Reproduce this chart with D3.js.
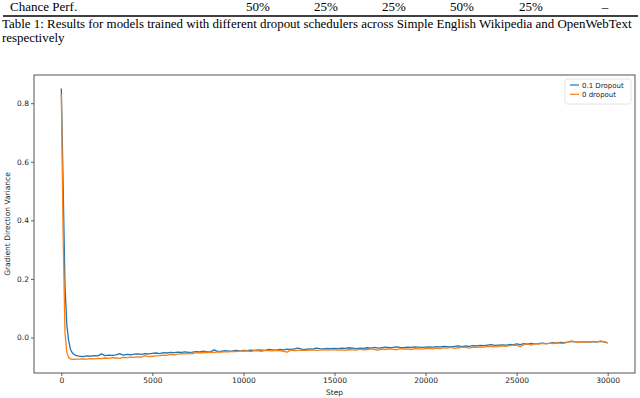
<!DOCTYPE html>
<html>
<head>
<meta charset="utf-8">
<script src="https://cdn.jsdelivr.net/npm/d3@7"></script>
<style>
  body { margin: 0; background: #fff; }
  svg { display: block; }
</style>
</head>
<body>
<div id="chart"></div>
<script>
// training steps at which gradient direction variance was logged
const steps = [
  0, 100, 200, 300, 400, 500, 600, 700, 800, 900,
  1000, 1200, 1400, 1600, 1800, 2000, 2200, 2400, 2600, 2800, 3000, 3200, 3400, 3600, 3800,
  4000, 4200, 4400, 4600, 4800, 5000, 5200, 5400, 5600, 5800, 6000, 6200, 6400, 6600, 6800,
  7000, 7200, 7400, 7600, 7800, 8000, 8200, 8400, 8600, 8800, 9000, 9200, 9400, 9600, 9800,
  10000, 10200, 10400, 10600, 10800, 11000, 11200, 11400, 11600, 11800, 12000, 12200, 12400, 12600, 12800,
  13000, 13200, 13400, 13600, 13800, 14000, 14200, 14400, 14600, 14800, 15000, 15200, 15400, 15600, 15800,
  16000, 16200, 16400, 16600, 16800, 17000, 17200, 17400, 17600, 17800, 18000, 18200, 18400, 18600, 18800,
  19000, 19200, 19400, 19600, 19800, 20000, 20200, 20400, 20600, 20800, 21000, 21200, 21400, 21600, 21800,
  22000, 22200, 22400, 22600, 22800, 23000, 23200, 23400, 23600, 23800, 24000, 24200, 24400, 24600, 24800,
  25000, 25200, 25400, 25600, 25800, 26000, 26200, 26400, 26600, 26800, 27000, 27200, 27400, 27600, 27800,
  28000, 28200, 28400, 28600, 28800, 29000, 29200, 29400, 29600, 29800, 30000
];

// 0.1 dropout
const dropout01 = [
  0.850, 0.520, 0.180, 0.045, -0.010, -0.040, -0.052, -0.058, -0.061, -0.063,
  -0.064, -0.065, -0.063, -0.064, -0.062, -0.063, -0.056, -0.062, -0.060, -0.061, -0.059, -0.055, -0.060, -0.058, -0.059,
  -0.057, -0.056, -0.058, -0.055, -0.056, -0.054,
  -0.053, -0.055, -0.052, -0.053, -0.051, -0.052, -0.050, -0.051, -0.049, -0.051, -0.050, -0.048, -0.049, -0.047, -0.049,
  -0.048, -0.042, -0.048, -0.047, -0.045, -0.047, -0.046, -0.044, -0.046, -0.044,
  -0.045, -0.043, -0.044, -0.042, -0.043, -0.044, -0.041, -0.042, -0.043, -0.041, -0.042, -0.040, -0.041, -0.039, -0.036,
  -0.040, -0.041, -0.039, -0.040, -0.036, -0.038, -0.039, -0.037, -0.038, -0.037,
  -0.038, -0.036, -0.037, -0.035, -0.036, -0.038, -0.036, -0.037, -0.035, -0.036, -0.034, -0.036, -0.035, -0.033, -0.035,
  -0.034, -0.032, -0.034, -0.035, -0.033, -0.034, -0.032, -0.033, -0.034, -0.033,
  -0.032, -0.033, -0.031, -0.032, -0.030, -0.031, -0.032, -0.030, -0.029, -0.031, -0.029, -0.030, -0.028, -0.029, -0.027,
  -0.028, -0.026, -0.024, -0.027, -0.026, -0.025, -0.026, -0.024, -0.025, -0.022,
  -0.024, -0.021, -0.023, -0.020, -0.022, -0.021, -0.019, -0.021, -0.020, -0.018, -0.019, -0.017, -0.018, -0.016, -0.013,
  -0.015, -0.016, -0.014, -0.015, -0.016, -0.014, -0.015, -0.013, -0.015, -0.018
];

// 0 dropout
const dropout0 = [
  0.830, 0.350, 0.020, -0.050, -0.068, -0.073, -0.075, -0.075, -0.074, -0.074,
  -0.074, -0.073, -0.074, -0.072, -0.073, -0.071, -0.072, -0.070, -0.071, -0.069, -0.070, -0.071, -0.068, -0.069, -0.067,
  -0.068, -0.066, -0.067, -0.062, -0.065, -0.064,
  -0.063, -0.062, -0.060, -0.061, -0.058, -0.059, -0.057, -0.055, -0.056, -0.054, -0.055, -0.052, -0.053, -0.051, -0.052,
  -0.050, -0.051, -0.049, -0.050, -0.048, -0.049, -0.047, -0.048, -0.046, -0.047,
  -0.046, -0.048, -0.045, -0.046, -0.047, -0.044, -0.045, -0.046, -0.044, -0.045, -0.047, -0.050, -0.043, -0.045, -0.044,
  -0.044, -0.044, -0.043, -0.042, -0.044, -0.043, -0.041, -0.043, -0.042, -0.042,
  -0.043, -0.042, -0.044, -0.041, -0.042, -0.043, -0.040, -0.042, -0.041, -0.039, -0.041, -0.043, -0.040, -0.041, -0.039,
  -0.040, -0.042, -0.038, -0.040, -0.039, -0.041, -0.038, -0.039, -0.040, -0.038,
  -0.037, -0.039, -0.036, -0.038, -0.035, -0.036, -0.034, -0.037, -0.035, -0.033, -0.034, -0.036, -0.033, -0.034, -0.032,
  -0.033, -0.031, -0.030, -0.032, -0.031, -0.029, -0.030, -0.028, -0.027, -0.026,
  -0.031, -0.024, -0.022, -0.026, -0.021, -0.023, -0.020, -0.022, -0.019, -0.021, -0.017, -0.020, -0.019, -0.016, -0.012,
  -0.015, -0.017, -0.014, -0.016, -0.015, -0.013, -0.016, -0.012, -0.014, -0.018
];

const xTicks = [0, 5000, 10000, 15000, 20000, 25000, 30000];
const yTicks = [0.0, 0.2, 0.4, 0.6, 0.8];

const chanceLabel = "Chance Perf.";
const chanceValues = ["50%", "25%", "25%", "50%", "25%", "–"];
const captionLines = [
  "Table 1: Results for models trained with different dropout schedulers across Simple English Wikipedia and OpenWebText",
  "respectively"
];

const series = [
  { name: "0.1 Dropout", values: dropout01, color: "#1f77b4" },
  { name: "0 dropout", values: dropout0, color: "#ff7f0e" }
];

const width = 640, height = 398;
const margin = { top: 75, right: 5, bottom: 25, left: 34 };

const svg = d3.select("#chart")
  .append("svg")
  .attr("width", width)
  .attr("height", height);

// ---- the table tail + caption above the figure
const serif = "'Liberation Serif', 'Times New Roman', serif";
svg.append("text")
  .attr("x", 10).attr("y", 11)
  .attr("font-family", serif).attr("font-size", 13)
  .text(chanceLabel);

const colX = [258, 326, 394, 462, 531, 605];
svg.append("g")
  .selectAll("text")
  .data(chanceValues)
  .join("text")
  .attr("x", (d, i) => colX[i]).attr("y", 11)
  .attr("text-anchor", "middle")
  .attr("font-family", serif).attr("font-size", 13)
  .text(d => d);

svg.append("line")
  .attr("x1", 3).attr("x2", 638)
  .attr("y1", 16).attr("y2", 16)
  .attr("stroke", "#000").attr("stroke-width", 1.3);

const caption = svg.append("g")
  .selectAll("text")
  .data(captionLines)
  .join("text")
  .attr("x", 2).attr("y", (d, i) => 28 + i * 14)
  .attr("font-family", serif).attr("font-size", 13.5)
  .text(d => d);

// scale caption font so the first line fits the page width
const capW = caption.node().getComputedTextLength();
const capSize = Math.min(13.5, 13.5 * 630 / capW);
caption.attr("font-size", capSize);

// ---- plot
const x = d3.scaleLinear()
  .domain([-1500, 31500])
  .range([margin.left, width - margin.right]);

const y = d3.scaleLinear()
  .domain([-0.12125, 0.89625])
  .range([height - margin.bottom, margin.top]);

const sans = "'DejaVu Sans', sans-serif";

const xAxis = svg.append("g")
  .attr("transform", `translate(0,${height - margin.bottom})`)
  .call(d3.axisBottom(x).tickValues(xTicks).tickSize(3).tickPadding(2).tickFormat(d3.format("d")));

const yAxis = svg.append("g")
  .attr("transform", `translate(${margin.left},0)`)
  .call(d3.axisLeft(y).tickValues(yTicks).tickSize(3).tickPadding(2).tickFormat(d3.format(".1f")));

[xAxis, yAxis].forEach(a => {
  a.select(".domain").remove();
  a.selectAll(".tick line").attr("stroke", "#333").attr("stroke-width", 0.8);
  a.selectAll(".tick text").attr("font-family", sans).attr("font-size", 7.5).attr("fill", "#222");
});

const line = d3.line()
  .x((d, i) => x(steps[i]))
  .y(d => y(d));

svg.append("g")
  .selectAll("path")
  .data(series)
  .join("path")
  .attr("fill", "none")
  .attr("stroke", d => d.color)
  .attr("stroke-width", 1.3)
  .attr("stroke-linejoin", "round")
  .attr("d", d => line(d.values));

// frame
svg.append("rect")
  .attr("x", margin.left).attr("y", margin.top)
  .attr("width", width - margin.left - margin.right)
  .attr("height", height - margin.top - margin.bottom)
  .attr("fill", "none")
  .attr("stroke", "#555")
  .attr("stroke-width", 1);

// axis titles
svg.append("text")
  .attr("x", x(15000)).attr("y", 395)
  .attr("text-anchor", "middle")
  .attr("font-family", sans).attr("font-size", 7.5).attr("fill", "#222")
  .text("Step");

svg.append("text")
  .attr("transform", `translate(10,${(margin.top + height - margin.bottom) / 2}) rotate(-90)`)
  .attr("text-anchor", "middle")
  .attr("font-family", sans).attr("font-size", 7.5).attr("fill", "#222")
  .text("Gradient Direction Variance");

// legend
const legend = svg.append("g").attr("transform", "translate(565,79)");
legend.append("rect")
  .attr("width", 66).attr("height", 25).attr("rx", 2)
  .attr("fill", "#fff").attr("stroke", "#ddd").attr("stroke-width", 0.8);

const item = legend.selectAll("g")
  .data(series)
  .join("g")
  .attr("transform", (d, i) => `translate(0,${6 + i * 9.3})`);

item.append("line")
  .attr("x1", 5).attr("x2", 14)
  .attr("stroke", d => d.color).attr("stroke-width", 1.2);

item.append("text")
  .attr("x", 17).attr("y", 2.5)
  .attr("font-family", sans).attr("font-size", 7).attr("fill", "#222")
  .text(d => d.name);
</script>
</body>
</html>
